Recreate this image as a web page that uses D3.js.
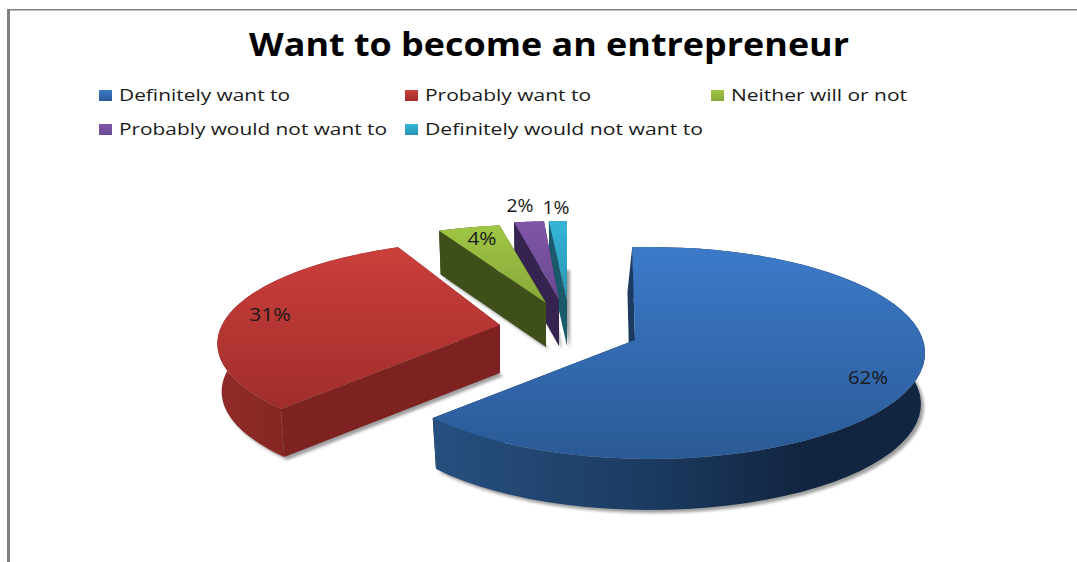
<!DOCTYPE html>
<html><head><meta charset="utf-8">
<script src="https://cdn.jsdelivr.net/npm/d3@7"></script>
<style>html,body{margin:0;padding:0;background:#fff}svg{display:block}text{font-family:"Open Sans",sans-serif;fill:#1a1a1a}</style>
</head><body><svg id="c" width="1077" height="562"></svg>
<script>
const titleText = "Want to become an entrepreneur";
const categories = ["Definitely want to","Probably want to","Neither will or not","Probably would not want to","Definitely would not want to"];
const values = [62,31,4,2,1];
const labels = ["62%","31%","4%","2%","1%"];
// styling and layout, per slice
const topLight = ["#3c7ac9","#cb3f3c","#a0c644","#8055a9","#36b5d8"];
const topDark  = ["#2a5a96","#a02d2a","#86a83a","#6a4a90","#2a94b0"];
const wallA    = ["#27507f","#8f2b28","#3f4f1a","#35244f","#1a5a6c"];
const wallM    = ["#1b3a60","#832623","#3f4f1a","#35244f","#1a5a6c"];
const wallB    = ["#122540","#7a2220","#3f4f1a","#35244f","#1a5a6c"];
const apexX = [650,500,546,559,567], apexY=[340,325,303,300,300];
const radiusX = [273,278,292,282,340], perspective=[.1226,.18,.18,.18,.18], radiusY=[104.4,100,93,93,93];
const thickness = [51,48,44,46,46], bottomShrink=[.985,.985,.985,.985,.985];
const startTweak = [-4.2,0,0,0,0], endTweak=[3.6,0,0,0,0];
const pinX = [635,null,null,null,null], startWallShift=[-5,0,0,0,0];
const labelX=[868,270,482,520,556], labelY=[384,321,245,212,214], labelW=[40,42,29,27,27];
const swatchX=[99,405,711,99,405], swatchY=[90,90,90,124,124], legendW=[171,166,176,268,278];

const svg = d3.select("#c"), defs = svg.append("defs");
defs.append("filter").attr("id","sh").attr("filterUnits","userSpaceOnUse")
  .attr("x",0).attr("y",0).attr("width",1077).attr("height",562)
  .append("feGaussianBlur").attr("stdDeviation",1.6);

// frame
svg.append("rect").attr("x",7).attr("y",9).attr("width",3).attr("height",553).attr("fill","#808080");
svg.append("rect").attr("x",7).attr("y",9).attr("width",1070).attr("height",1.5).attr("fill","#808080");

// title & legend
svg.append("text").attr("x",249).attr("y",56).text(titleText)
  .style("font-size","32px").style("font-weight",700).attr("textLength",600).attr("lengthAdjust","spacingAndGlyphs").style("fill","#000");
const lg = svg.selectAll(".lg").data(categories).join("g").attr("class","lg");
lg.append("rect").attr("x",(d,i)=>swatchX[i]).attr("y",(d,i)=>swatchY[i]).attr("width",13).attr("height",11)
  .attr("fill",(d,i)=>`url(#top${i})`);
lg.append("text").attr("x",(d,i)=>swatchX[i]+20).attr("y",(d,i)=>swatchY[i]+11).text(d=>d)
  .style("font-size","17px").attr("textLength",(d,i)=>legendW[i]).attr("lengthAdjust","spacingAndGlyphs");

// slices
const pie = d3.pie().sort(null).value(d=>d)(values);
const rad = d=>d*Math.PI/180;
function project(i,a,bottom){
  const p=perspective[i], s=Math.sin(a), c=-Math.cos(a), d=1-p*c;
  const shrink = bottom?bottomShrink[i]:1;
  return [apexX[i]+radiusX[i]*shrink*s/d, apexY[i]+radiusY[i]*c/d+(bottom?thickness[i]:0)];
}
const line=d3.line();
values.forEach((v,i)=>{
  const g=defs.append("linearGradient").attr("id","top"+i).attr("x1",0).attr("y1",0).attr("x2",0).attr("y2",1);
  g.append("stop").attr("offset",0).attr("stop-color",topLight[i]);
  g.append("stop").attr("offset",1).attr("stop-color",topDark[i]);
  const w=defs.append("linearGradient").attr("id","wall"+i).attr("x1",0).attr("y1",0).attr("x2",1).attr("y2",0);
  w.append("stop").attr("offset",0).attr("stop-color",wallA[i]);
  w.append("stop").attr("offset",.45).attr("stop-color",wallM[i]);
  w.append("stop").attr("offset",.75).attr("stop-color",wallB[i]);
  w.append("stop").attr("offset",1).attr("stop-color",wallB[i]);
});
const layer=svg.append("g");
d3.range(values.length-1,-1,-1).forEach(i=>{
  const sl=pie[i];
  const a0=sl.startAngle+rad(startTweak[i]), a1=sl.endAngle+rad(endTweak[i]);
  const angs=d3.range(0,61).map(k=>a0+(a1-a0)*k/60);
  const apexT=[pinX[i]??apexX[i],apexY[i]], apexB=[apexT[0],apexT[1]+thickness[i]];
  const rimT=angs.map(a=>project(i,a,false)), rimB=angs.map(a=>project(i,a,true));
  const g=layer.append("g");
  // soft ground shadow from the slice's bottom outline
  g.append("path").attr("d",line([apexB,...rimB])+"Z").attr("transform","translate(3,3)")
    .attr("fill","#000").attr("fill-opacity",.38).attr("filter","url(#sh)");
  const shift=startWallShift[i];
  g.append("path").attr("d",line([apexT,rimT[60],rimB[60],apexB])+"Z").attr("fill",wallB[i]);
  g.append("path").attr("d",line([...rimT,...rimB.slice().reverse()])+"Z").attr("fill",`url(#wall${i})`);
  g.append("path").attr("d",line([apexT,rimT[0],[rimB[0][0]+shift,rimB[0][1]-6*(shift<0)],[apexB[0]+shift,apexB[1]]])+"Z")
    .attr("fill",i==0?"#1a3a60":(i==1?"#7d2220":wallB[i]));
  g.append("path").attr("d",line([apexT,...rimT])+"Z").attr("fill",`url(#top${i})`);
});
svg.selectAll(".dl").data(labels).join("text").attr("class","dl")
  .attr("x",(d,i)=>labelX[i]-labelW[i]/2).attr("y",(d,i)=>labelY[i]).text(d=>d)
  .style("font-size","18px").attr("textLength",(d,i)=>labelW[i]).attr("lengthAdjust","spacingAndGlyphs");
</script></body></html>
